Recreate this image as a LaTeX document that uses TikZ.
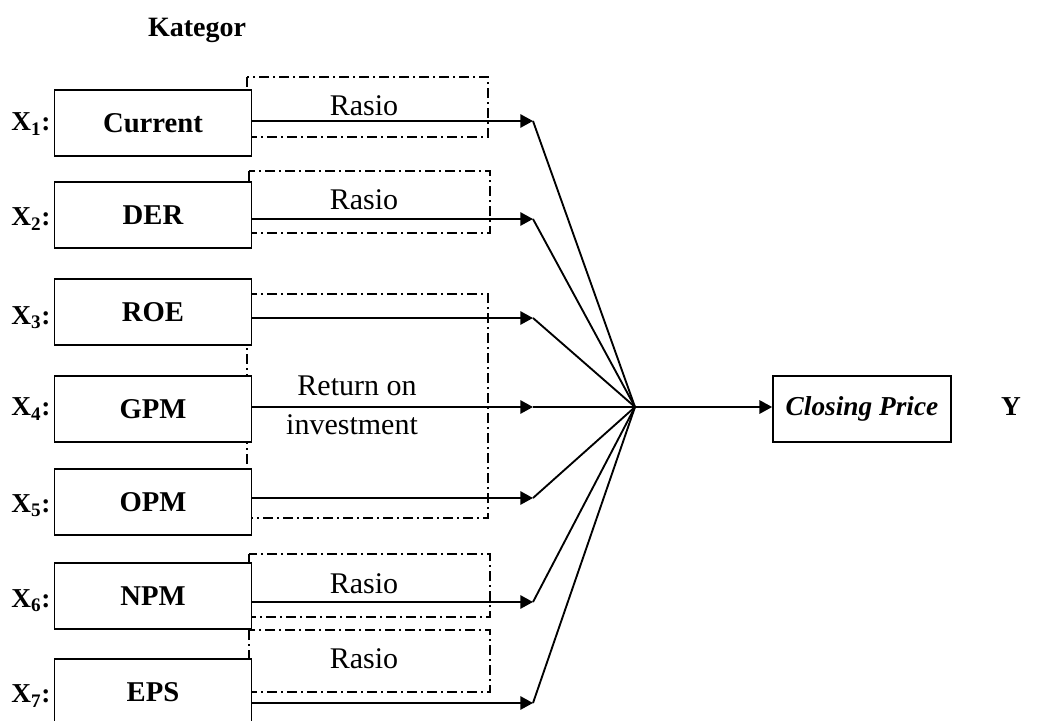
\documentclass[tikz,border=0pt]{standalone}
\usepackage{fontspec}
\setmainfont{Liberation Serif}
\usetikzlibrary{arrows.meta}
\begin{document}
\begin{tikzpicture}[x=0.75pt,y=-0.75pt,
  varbox/.style={draw, line width=1.3pt, fill=white, minimum width=147.75pt, minimum height=49.5pt, inner sep=0pt, font=\fontsize{21.5}{25}\selectfont\bfseries},
  xlabel/.style={font=\fontsize{20.5}{24}\selectfont\bfseries, inner sep=0pt},
  group/.style={line width=1.4pt, dash pattern=on 7.5pt off 3pt on 1.5pt off 3pt},
  arr/.style={line width=1.4pt, -{Triangle[length=9.5pt,width=10pt]}},
  link/.style={line width=1.4pt},
  cat/.style={font=\fontsize{22.5}{26}\selectfont, inner sep=0pt}]
\useasboundingbox (0,0) rectangle (1046,721);
\clip (0,0) rectangle (1046,721);

% dash-dot category frames (drawn first, the variable boxes cover their inner parts)
\draw[group] (247,77) rectangle (488,137);
\draw[group] (249,171) rectangle (490,233);
\draw[group] (247,294) rectangle (488,518);
\draw[group] (249,554) rectangle (490,617);
\draw[group] (249,630) rectangle (490,692);

% heading
\node[font=\fontsize{21}{25}\selectfont\bfseries] (kat) at (197,30) {Kategor};

% independent variables
\node[varbox] (cur) at (153,123) {Current};
\node[varbox] (der) at (153,215) {DER};
\node[varbox] (roe) at (153,312) {ROE};
\node[varbox] (gpm) at (153,409) {GPM};
\node[varbox] (opm) at (153,502) {OPM};
\node[varbox] (npm) at (153,596) {NPM};
\node[varbox] (eps) at (153,692) {EPS};

\node[xlabel] (x1) at (31,124) {X\textsubscript{1}:};
\node[xlabel] (x2) at (31,219) {X\textsubscript{2}:};
\node[xlabel] (x3) at (31,318) {X\textsubscript{3}:};
\node[xlabel] (x4) at (31,409) {X\textsubscript{4}:};
\node[xlabel] (x5) at (31,506) {X\textsubscript{5}:};
\node[xlabel] (x6) at (31,601) {X\textsubscript{6}:};
\node[xlabel] (x7) at (31,696) {X\textsubscript{7}:};

% category labels
\node[cat] (r1) at (364,106) {Rasio};
\node[cat] (r2) at (364,200) {Rasio};
\node[cat] (roi1) at (357,386) {Return on};
\node[cat] (roi2) at (352,425) {investment};
\node[cat] (r6) at (364,584) {Rasio};
\node[cat] (r7) at (364,659) {Rasio};

% arrow end points and the joining point
\coordinate (t1) at (533,121);
\coordinate (t2) at (533,219);
\coordinate (t3) at (533,318);
\coordinate (t4) at (533,407);
\coordinate (t5) at (533,498);
\coordinate (t6) at (533,602);
\coordinate (t7) at (533,703);
\coordinate (hub) at (635,407);

\draw[arr] (cur.east |- t1) -- (t1);
\draw[arr] (der.east |- t2) -- (t2);
\draw[arr] (roe.east |- t3) -- (t3);
\draw[arr] (gpm.east |- t4) -- (t4);
\draw[arr] (opm.east |- t5) -- (t5);
\draw[arr] (npm.east |- t6) -- (t6);
\draw[arr] (eps.east |- t7) -- (t7);

\foreach \t in {t1,t2,t3,t4,t5,t6,t7} \draw[link] (\t) -- (hub);

% dependent variable
\node[varbox, minimum width=133.5pt, font=\fontsize{20.5}{24}\selectfont\bfseries\itshape] (cp) at (862,409) {Closing Price};
\node[xlabel] (y) at (1011,407) {Y};
\draw[arr] (hub) -- (cp.west |- hub);
\end{tikzpicture}
\end{document}
